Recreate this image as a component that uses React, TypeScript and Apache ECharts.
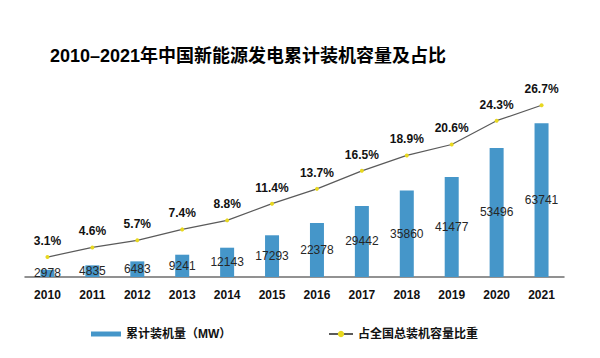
import React, { useEffect, useRef } from "react";
import * as echarts from "echarts";

const years = ["2010","2011","2012","2013","2014","2015","2016","2017","2018","2019","2020","2021"];
const capacityMW = [2978, 4835, 6483, 9241, 12143, 17293, 22378, 29442, 35860, 41477, 53496, 63741];
const sharePct = [3.1, 4.6, 5.7, 7.4, 8.8, 11.4, 13.7, 16.5, 18.9, 20.6, 24.3, 26.7];
const titleText = "2010–2021年中国新能源发电累计装机容量及占比";
const barName = "累计装机量（MW）";
const lineName = "占全国总装机容量比重";

export default function App() {
  const ref = useRef<HTMLDivElement>(null);
  useEffect(() => {
    if (!ref.current) return;
    const chart = echarts.init(ref.current, null, { renderer: "svg" });
    const font = "'Liberation Sans', Arial, 'Noto Sans CJK SC', sans-serif";
    chart.setOption({
      animation: false,
      backgroundColor: "#ffffff",
      textStyle: { fontFamily: font },
      title: {
        text: titleText,
        left: 45,
        top: 42,
        textStyle: { fontSize: 18, fontWeight: "bold", color: "#000", fontFamily: font },
      },
      legend: [
        {
          data: [barName],
          left: 86,
          top: 323,
          itemWidth: 30,
          itemHeight: 5,
          icon: "rect",
          itemGap: 7,
          textStyle: { fontSize: 12, fontWeight: "bold", color: "#111", fontFamily: font },
        },
        {
          data: [lineName],
          left: 323,
          top: 323,
          itemWidth: 24,
          itemHeight: 8,
          textStyle: { fontSize: 12, fontWeight: "bold", color: "#111", fontFamily: font },
        },
      ],
      grid: { left: 25, right: 36, top: 84, bottom: 81 },
      xAxis: {
        type: "category",
        data: years,
        axisLine: { lineStyle: { color: "#6e6e6e", width: 1.5 } },
        axisTick: { show: false },
        axisLabel: { color: "#111", fontSize: 12, fontWeight: "bold", margin: 12, fontFamily: font },
      },
      yAxis: [
        { type: "value", min: 0, max: 80000, show: false, splitLine: { show: false } },
        { type: "value", min: 0, max: 30, show: false, splitLine: { show: false } },
      ],
      series: [
        {
          name: barName,
          type: "bar",
          data: capacityMW,
          barWidth: 14,
          itemStyle: { color: "#4596c9" },
          label: {
            show: true,
            position: "inside",
            color: "#262626",
            fontSize: 12,
            fontFamily: font,
          },
        },
        {
          name: lineName,
          type: "line",
          yAxisIndex: 1,
          data: sharePct,
          symbol: "circle",
          symbolSize: 4,
          clip: false,
          lineStyle: { color: "#5a5a5a", width: 1.2 },
          itemStyle: { color: "#e8d820" },
          label: {
            show: true,
            position: "top",
            distance: 8,
            formatter: (p: any) => p.value.toFixed(1) + "%",
            color: "#111",
            fontSize: 12,
            fontWeight: "bold",
            fontFamily: font,
          },
        },
      ],
    });
    return () => chart.dispose();
  }, []);
  return <div ref={ref} style={{ width: 600, height: 358, position: "absolute", left: 0, top: 0 }} />;
}
